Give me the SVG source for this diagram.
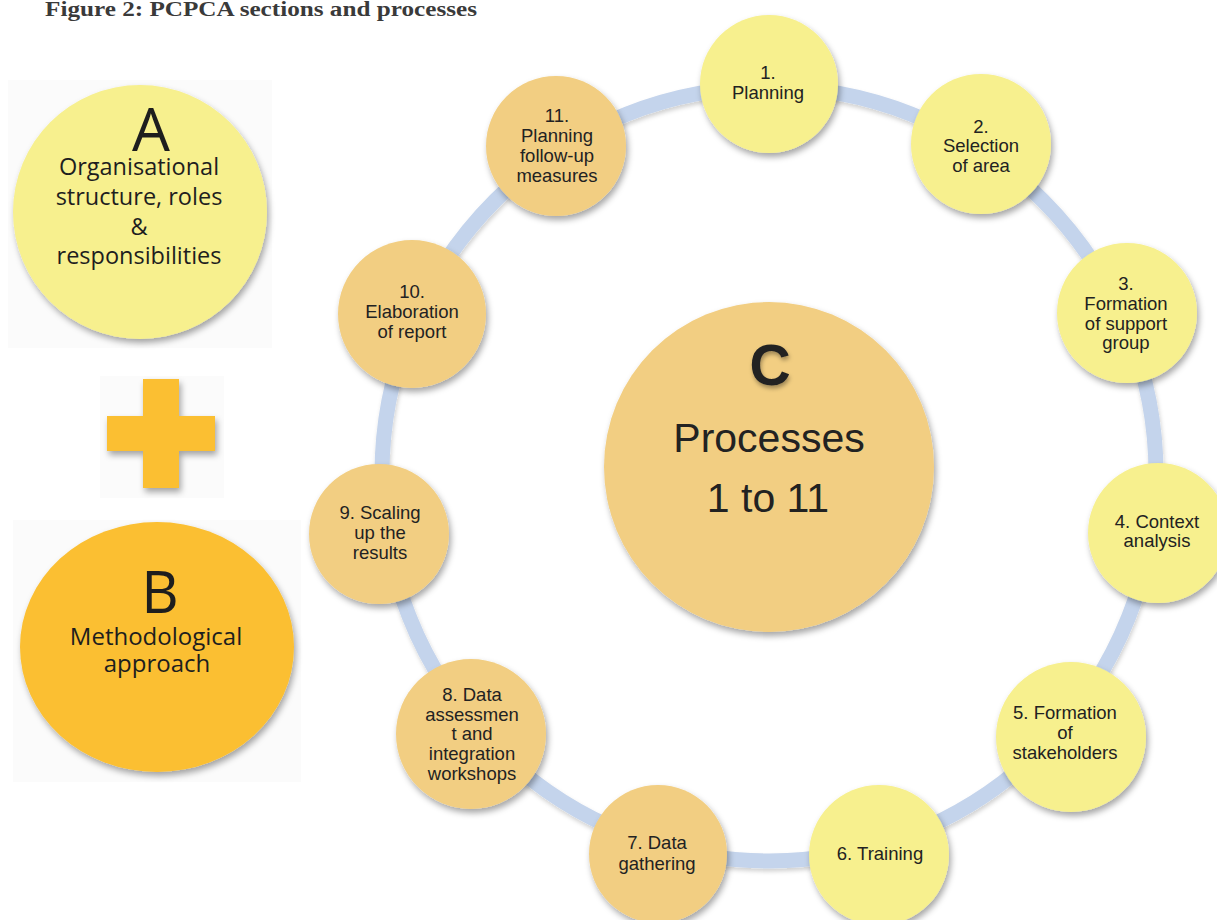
<svg xmlns="http://www.w3.org/2000/svg" width="1217" height="920" viewBox="0 0 1217 920">
  <style>
    .title { font-family: "Liberation Serif", "Times New Roman", serif; font-weight: bold; font-size: 20px; fill: #3a3a3a; }
    .cal { font-family: "Open Sans", "Noto Sans", sans-serif; fill: #1e1e1e; text-anchor: middle; }
    .ar { font-family: "Liberation Sans", Arial, sans-serif; fill: #222; text-anchor: middle; }
    .sm { font-size: 18.5px; }
    .yel { fill: #F7F08E; }
    .tan { fill: #F2CE82; }
    .org { fill: #FBBF33; }
    .bg { fill: #fbfbfb; }
    .ring { fill: none; stroke: #C4D4EC; stroke-width: 15; }
  </style>
  <defs>
    <filter id="sh" x="-20%" y="-20%" width="140%" height="140%">
      <feDropShadow dx="2" dy="4" stdDeviation="3" flood-color="#000" flood-opacity="0.35"/>
    </filter>
    <filter id="tsh" x="-20%" y="-20%" width="140%" height="140%">
      <feDropShadow dx="1" dy="3" stdDeviation="2" flood-color="#000" flood-opacity="0.35"/>
    </filter>
    <filter id="rsh" x="-10%" y="-10%" width="120%" height="120%">
      <feDropShadow dx="1" dy="3" stdDeviation="2" flood-color="#000" flood-opacity="0.18"/>
    </filter>
  </defs>
  <rect width="1217" height="920" fill="#ffffff"/>

  <text class="title" x="45" y="16" textLength="432" lengthAdjust="spacingAndGlyphs">Figure 2: PCPCA sections and processes</text>

  <!-- Section A -->
  <g id="nodeA">
    <rect class="bg" x="8" y="80" width="264" height="268"/>
    <circle class="yel" cx="140" cy="212" r="127" filter="url(#sh)"/>
    <text class="cal" x="151" y="151" font-size="60">A</text>
    <text class="cal" x="139" y="175" font-size="23.5">Organisational</text>
    <text class="cal" x="139" y="205" font-size="23.5">structure, roles</text>
    <text class="cal" x="139" y="235" font-size="23.5">&amp;</text>
    <text class="cal" x="139" y="264" font-size="23.5">responsibilities</text>
  </g>

  <!-- Plus -->
  <g id="plus">
    <rect class="bg" x="100" y="376" width="124" height="122"/>
    <path class="org" d="M143,379 h36 v37 h36 v35 h-36 v37 h-36 v-37 h-36 v-35 h36 z" filter="url(#sh)"/>
  </g>

  <!-- Section B -->
  <g id="nodeB">
    <rect class="bg" x="13" y="520" width="288" height="262"/>
    <ellipse class="org" cx="157" cy="647" rx="137" ry="125" filter="url(#sh)"/>
    <text class="cal" x="160" y="613" font-size="58">B</text>
    <text class="cal" x="156" y="645" font-size="24">Methodological</text>
    <text class="cal" x="157" y="672" font-size="24">approach</text>
  </g>

  <!-- Connectors (ring) -->
  <g id="connectors">
    <circle class="ring" cx="769" cy="474" r="387" filter="url(#rsh)"/>
  </g>

  <!-- Section C -->
  <g id="nodeC">
    <circle class="tan" cx="769" cy="467" r="165" filter="url(#sh)"/>
    <text class="ar" x="770" y="385" font-size="57" font-weight="bold" fill="#1a1a1a" filter="url(#tsh)">C</text>
    <text class="ar" x="769" y="452" font-size="41">Processes</text>
    <text class="ar" x="768" y="512" font-size="41">1 to 11</text>
  </g>

  <g id="n1">
    <circle class="yel" cx="769" cy="84" r="69" filter="url(#sh)"/>
    <text class="ar sm" x="768" y="79">1.</text>
    <text class="ar sm" x="768" y="99">Planning</text>
  </g>
  <g id="n2">
    <circle class="yel" cx="981" cy="144" r="70" filter="url(#sh)"/>
    <text class="ar sm" x="981" y="133">2.</text>
    <text class="ar sm" x="981" y="152">Selection</text>
    <text class="ar sm" x="981" y="172">of area</text>
  </g>
  <g id="n3">
    <circle class="yel" cx="1127" cy="313" r="70" filter="url(#sh)"/>
    <text class="ar sm" x="1126" y="290">3.</text>
    <text class="ar sm" x="1126" y="310">Formation</text>
    <text class="ar sm" x="1126" y="330">of support</text>
    <text class="ar sm" x="1126" y="349">group</text>
  </g>
  <g id="n4">
    <circle class="yel" cx="1158" cy="533" r="70" filter="url(#sh)"/>
    <text class="ar sm" x="1157" y="528">4. Context</text>
    <text class="ar sm" x="1157" y="547">analysis</text>
  </g>
  <g id="n5">
    <circle class="yel" cx="1071" cy="737" r="75" filter="url(#sh)"/>
    <text class="ar sm" x="1065" y="719">5. Formation</text>
    <text class="ar sm" x="1065" y="739">of</text>
    <text class="ar sm" x="1065" y="759">stakeholders</text>
  </g>
  <g id="n6">
    <circle class="yel" cx="879" cy="855" r="70" filter="url(#sh)"/>
    <text class="ar sm" x="880" y="860">6. Training</text>
  </g>
  <g id="n7">
    <circle class="tan" cx="658" cy="854" r="69" filter="url(#sh)"/>
    <text class="ar sm" x="657" y="849">7. Data</text>
    <text class="ar sm" x="657" y="870">gathering</text>
  </g>
  <g id="n8">
    <circle class="tan" cx="471" cy="734" r="75" filter="url(#sh)"/>
    <text class="ar sm" x="472" y="701">8. Data</text>
    <text class="ar sm" x="472" y="721">assessmen</text>
    <text class="ar sm" x="472" y="740">t and</text>
    <text class="ar sm" x="472" y="760">integration</text>
    <text class="ar sm" x="472" y="780">workshops</text>
  </g>
  <g id="n9">
    <circle class="tan" cx="379" cy="534" r="70" filter="url(#sh)"/>
    <text class="ar sm" x="380" y="519">9. Scaling</text>
    <text class="ar sm" x="380" y="539">up the</text>
    <text class="ar sm" x="380" y="559">results</text>
  </g>
  <g id="n10">
    <circle class="tan" cx="412" cy="314" r="74" filter="url(#sh)"/>
    <text class="ar sm" x="412" y="298">10.</text>
    <text class="ar sm" x="412" y="318">Elaboration</text>
    <text class="ar sm" x="412" y="338">of report</text>
  </g>
  <g id="n11">
    <circle class="tan" cx="556" cy="146" r="70" filter="url(#sh)"/>
    <text class="ar sm" x="557" y="122">11.</text>
    <text class="ar sm" x="557" y="142">Planning</text>
    <text class="ar sm" x="557" y="162">follow-up</text>
    <text class="ar sm" x="557" y="182">measures</text>
  </g>
</svg>
